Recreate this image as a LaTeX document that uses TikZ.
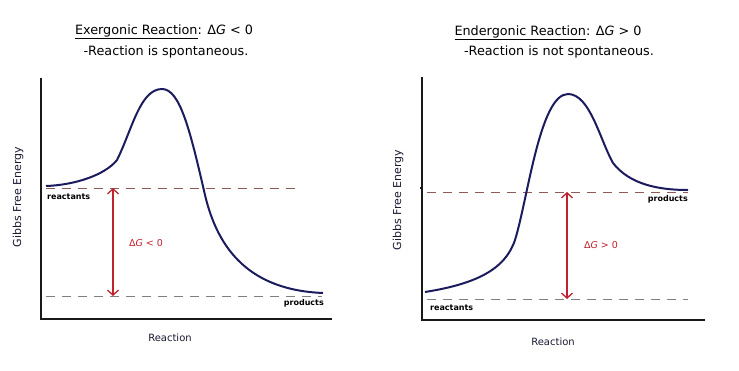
\documentclass[tikz,border=0pt]{standalone}
\usepackage{fontspec}
\setmainfont{DejaVu Sans}
\usetikzlibrary{arrows.meta}
\definecolor{curvec}{HTML}{1B1B5E}
\definecolor{redc}{HTML}{C0232E}
\definecolor{dashtop}{HTML}{8E5A5A}
\definecolor{dashbot}{HTML}{808080}
\definecolor{txtc}{HTML}{1A1A33}
\tikzset{
  axisline/.style={line width=1.1pt, draw=black!90},
  energycurve/.style={line width=2pt, draw=curvec, line join=round},
  levelline/.style={line width=0.9pt, dash pattern=on 9pt off 7pt},
  gap/.style={line width=1.3pt, draw=redc, {Straight Barb[length=5pt,width=11pt]}-{Straight Barb[length=5pt,width=11pt]}},
  titletext/.style={font=\fontsize{12.8}{15}\selectfont, text=black, inner sep=0pt},
  levellabel/.style={font=\fontsize{8}{10}\selectfont\bfseries, text=black, inner sep=0pt},
  gaplabel/.style={font=\fontsize{9.5}{11}\selectfont, text=redc, inner sep=0pt},
  axislabel/.style={font=\fontsize{10}{12}\selectfont, text=txtc, inner sep=0pt},
  ylabel/.style={font=\fontsize{11}{13}\selectfont, text=txtc, inner sep=0pt, rotate=90}
}
\begin{document}
\begin{tikzpicture}[x=1pt,y=-1pt]
\useasboundingbox[fill=white] (0,0) rectangle (739,370);

% ---------- Left: exergonic ----------
\node[titletext] (t1) at (164,32) {\underline{Exergonic Reaction}: Δ\textit{G} < 0};
\node[titletext] (s1) at (166,52) {-Reaction is spontaneous.};

\coordinate (lyt) at (41,78);
\coordinate (lo) at (41,319);
\coordinate (lxr) at (332,319);
\draw[axisline] (lyt) -- (lo) -- (lxr);

\draw[levelline, draw=dashtop] (46,188) -- (296,188);
\draw[levelline, draw=dashbot] (46,296) -- (322,296);

\draw[energycurve] (46,186) .. controls (75,185) and (105,175) .. (117,160)
  .. controls (132,130) and (140,89) .. (162,89)
  .. controls (180,89) and (190,130) .. (205,195)
  .. controls (218,250) and (250,290) .. (323,293);

\coordinate (la1) at (113,188);
\coordinate (la2) at (113,296);
\draw[gap] (la1) -- (la2);

\node[gaplabel] (lg) at (146,243) {Δ\textit{G} < 0};
\node[levellabel, anchor=west] (lr) at (47,197) {reactants};
\node[levellabel, anchor=east] (lp) at (324,303) {products};
\node[ylabel] (ly) at (18,197) {Gibbs Free Energy};
\node[axislabel] (lx) at (170,338) {Reaction};

% ---------- Right: endergonic ----------
\node[titletext] (t2) at (548,33) {\underline{Endergonic Reaction}: Δ\textit{G} > 0};
\node[titletext] (s2) at (559,52) {-Reaction is not spontaneous.};

\coordinate (ryt) at (422,77);
\coordinate (ro) at (422,320);
\coordinate (rxr) at (705,320);
\draw[axisline] (ryt) -- (ro) -- (rxr);
\draw[axisline] (420,188) -- (422,188);

\draw[levelline, draw=dashtop] (427,192) -- (688,192);
\draw[levelline, draw=dashbot] (427,299) -- (688,299);

\draw[energycurve] (425,292) .. controls (475,284) and (505,270) .. (515,240)
  .. controls (528,198) and (540,94) .. (568,94)
  .. controls (590,94) and (600,140) .. (613,163)
  .. controls (630,185) and (660,190) .. (688,190);

\coordinate (ra1) at (567,192);
\coordinate (ra2) at (567,299);
\draw[gap] (ra1) -- (ra2);

\node[gaplabel] (rg) at (601,245) {Δ\textit{G} > 0};
\node[levellabel, anchor=east] (rp) at (688,199) {products};
\node[levellabel, anchor=west] (rr) at (430,308) {reactants};
\node[ylabel] (ry) at (398,200) {Gibbs Free Energy};
\node[axislabel] (rx) at (553,342) {Reaction};
\end{tikzpicture}
\end{document}
